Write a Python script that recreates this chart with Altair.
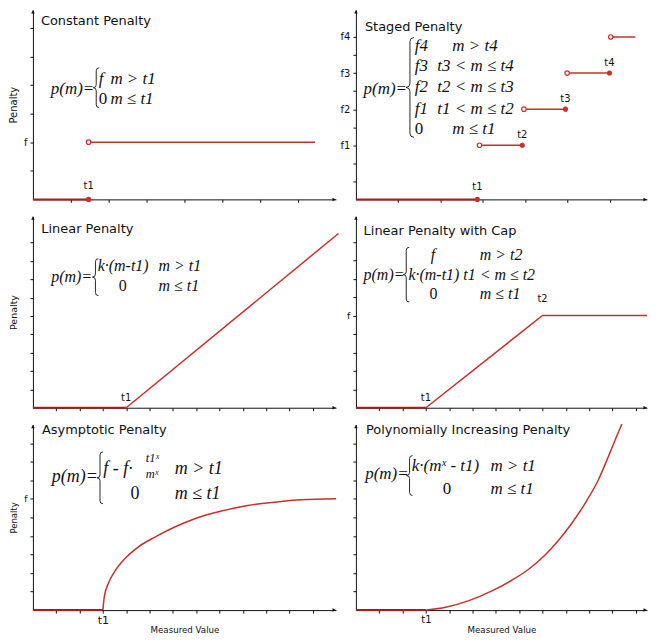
import altair as alt
import pandas as pd

RED = "#c8302c"
DARK_RED = "#a81e1e"
INK = "#111111"
SANS = "DejaVu Sans"
SERIF = "Liberation Serif"

# ---------------- data (tick units of each panel) ----------------
# Constant penalty
const_t1 = 1.47
const_f = 2
const_end = 7.45

# Staged penalty
staged_level = [3, 5, 7, 9]
staged_level_name = ["f1", "f2", "f3", "f4"]
staged_t = [2.87, 3.93, 4.95, 5.99]
staged_open = [2.92, 3.97, 4.99, 6.02]
staged_t_name = ["t1", "t2", "t3", "t4"]
staged_end = 6.6

# Linear penalty
linear_t1 = 4
linear_end_x = 13.1
linear_end_y = 9.5

# Linear penalty with cap
cap_t1 = 3
cap_t2 = 8
cap_f = 5
cap_end = 12.48

# Asymptotic penalty
asym_t1 = 3
asym_f = 6
asym_x = [3.0, 3.06, 3.23, 3.52, 3.94, 4.51, 5.23, 6.08, 6.94, 8.08, 9.21, 10.35, 11.5, 13.0]
asym_y = [0.0, 0.72, 1.43, 2.11, 2.77, 3.40, 3.94, 4.48, 4.93, 5.34, 5.64, 5.82, 5.95, 6.0]

# Polynomially increasing penalty
poly_t1 = 3
poly_x = [3.02, 3.85, 4.84, 5.83, 6.68, 7.39, 8.1, 8.67, 9.24, 9.81, 10.38, 10.81, 11.16, 11.4]
poly_y = [0.0, 0.15, 0.51, 1.04, 1.61, 2.19, 2.96, 3.74, 4.66, 5.73, 6.99, 8.24, 9.32, 10.04]

ticks_const_x = [1, 2, 3, 4, 5, 6, 7]
ticks_const_y = [1, 2, 3, 4, 5, 6]
ticks_staged_x = [1, 2, 3, 4, 5, 6]
ticks_9 = [1, 2, 3, 4, 5, 6, 7, 8, 9]
ticks_12 = [1, 2, 3, 4, 5, 6, 7, 8, 9, 10, 11, 12]

# ---------------- layout ----------------
COL_W = [304, 292]
ROW_H = [190, 192, 186]


def label_expr(mapping):
    expr = "''"
    for v, name in mapping.items():
        expr = f"datum.value == {v} ? '{name}' : " + expr
    return expr


class Panel:
    def __init__(self, col, row, ux, uy, ref_origin, xticks, yticks, xlabels=None, ylabels=None,
                 xtitle=None, ytitle=None, ytitle_size=10, xlabel_size=10, ylabel_size=10):
        self.W, self.H = COL_W[col], ROW_H[row]
        self.ox, self.oy = ref_origin      # reference position of the axes' origin
        self.ux, self.uy = ux, uy
        self.xmax, self.ymax = self.W / ux, self.H / uy
        self.xs = alt.Scale(domain=[0, self.xmax], nice=False, zero=False)
        self.ys = alt.Scale(domain=[0, self.ymax], nice=False, zero=False)
        common = dict(grid=False, domainColor=INK, domainWidth=1, tickColor=INK,
                      tickWidth=1, tickSize=3)
        xa = dict(common, values=xticks)
        if xlabels:
            xa.update(labelExpr=label_expr(xlabels), labelFont=SANS, labelFontSize=xlabel_size,
                      labelColor=INK, labelPadding=1.5, labelAngle=0, labelFlush=False,
                      labelOverlap=False)
        else:
            xa.update(labels=False)
        if xtitle:
            xa.update(title=xtitle, titleFont=SANS, titleFontSize=8.7, titleFontWeight="normal",
                      titleColor=INK, titleY=15)
        else:
            xa.update(title=None)
        ya = dict(common, values=yticks)
        if ylabels:
            ya.update(labelExpr=label_expr(ylabels), labelFont=SANS, labelFontSize=ylabel_size,
                      labelColor=INK, labelPadding=3, labelFlush=False, labelOverlap=False)
        else:
            ya.update(labels=False)
        if ytitle:
            ya.update(title=ytitle, titleFont=SANS, titleFontSize=ytitle_size,
                      titleFontWeight="normal", titleColor=INK, titleX=-14.5)
        else:
            ya.update(title=None)
        self.xa = alt.Axis(**xa)
        self.ya = alt.Axis(**ya)
        self.layers = []

    def enc(self, **extra):
        return dict(x=alt.X("x:Q", scale=self.xs, axis=self.xa),
                    y=alt.Y("y:Q", scale=self.ys, axis=self.ya), **extra)

    def pos(self, px, py):
        return (px - self.ox) / self.ux, (self.oy - py) / self.uy

    def line(self, xs, ys, seg=None, color=RED, width=1.5, interpolate="linear"):
        df = pd.DataFrame({"x": xs, "y": ys, "seg": seg if seg else [0] * len(xs),
                           "i": list(range(len(xs)))})
        self.layers.append(alt.Chart(df).mark_line(color=color, strokeWidth=width,
                                                   interpolate=interpolate)
                           .encode(**self.enc(detail="seg:N", order="i:Q")))

    def dots(self, xs, ys, size=26):
        df = pd.DataFrame({"x": xs, "y": ys})
        self.layers.append(alt.Chart(df).mark_point(shape="circle", filled=True, color=RED,
                                                    size=size, opacity=1)
                           .encode(**self.enc()))

    def rings(self, xs, ys, size=20):
        df = pd.DataFrame({"x": xs, "y": ys})
        self.layers.append(alt.Chart(df).mark_point(shape="circle", filled=True, fill="white",
                                                    stroke=RED, strokeWidth=1.2, size=size,
                                                    opacity=1)
                           .encode(**self.enc()))

    def labels(self, xs, ys, texts, dy, size=10):
        df = pd.DataFrame({"x": xs, "y": ys, "t": texts})
        self.layers.append(alt.Chart(df).mark_text(font=SANS, fontSize=size, color=INK, dy=dy,
                                                   align="center", baseline="middle")
                           .encode(**self.enc(text="t:N")))

    def texts(self, items, font, size, style="normal"):
        rows = [(t,) + self.pos(px, py) for t, px, py in items]
        df = pd.DataFrame(rows, columns=["t", "x", "y"])
        self.layers.append(alt.Chart(df).mark_text(font=font, fontSize=size, fontStyle=style,
                                                   color=INK, align="left", baseline="middle")
                           .encode(**self.enc(text="t:N")))

    def brace(self, cx, cy, h, w=6):
        a = w / h
        path = (f"M{a:.3f},-1Q0,-1 0,{-1 + a:.3f}L0,{-a:.3f}Q0,0 {-a:.3f},0"
                f"Q0,0 0,{a:.3f}L0,{1 - a:.3f}Q0,1 {a:.3f},1")
        x, y = self.pos(cx, cy)
        df = pd.DataFrame({"x": [x], "y": [y]})
        self.layers.append(alt.Chart(df).mark_point(shape=path, filled=False, stroke=INK,
                                                    strokeWidth=0.9, size=h * h, opacity=1)
                           .encode(**self.enc()))

    def arrows(self):
        right = "M0,0L-1,-0.5L-1,0.5Z"
        up = "M0,0L-0.5,1L0.5,1Z"
        for shape, x, y in [(right, self.xmax, 0), (up, 0, self.ymax)]:
            df = pd.DataFrame({"x": [x], "y": [y]})
            self.layers.append(alt.Chart(df).mark_point(shape=shape, filled=True, color=INK,
                                                        size=49, opacity=1, strokeWidth=0)
                               .encode(**self.enc()))

    def chart(self):
        return alt.layer(*self.layers).properties(width=self.W, height=self.H)


# ---------------- Panel 1: Constant ----------------
p1 = Panel(0, 0, 38, 28.7, (34, 198), ticks_const_x, ticks_const_y, ylabels={const_f: "f"},
           ytitle="Penalty", ytitle_size=10)
p1.line([0, const_t1], [0, 0], color=DARK_RED, width=2)
p1.line([const_t1, const_end], [const_f, const_f])
p1.dots([const_t1], [0], size=30)
p1.rings([const_t1], [const_f])
p1.labels([const_t1], [0], ["t1"], dy=-13)
p1.texts([("Constant Penalty", 42, 19)], SANS, 13)
p1.texts([("p(m)=", 52, 87), ("f", 100, 77), ("m > t1", 111.7, 77), ("m ≤ t1", 111.7, 97)],
         SERIF, 17, "italic")
p1.texts([("0", 100, 97)], SERIF, 17)
p1.brace(97.5, 86, 40)
p1.arrows()

# ---------------- Panel 2: Staged ----------------
p2 = Panel(1, 0, 42.46, 18.1, (358.3, 199), ticks_staged_x, ticks_9,
           ylabels=dict(zip(staged_level, staged_level_name)))
p2.line([0, staged_t[0]], [0, 0], color=DARK_RED, width=2)
seg_x, seg_y, seg_id = [], [], []
for i in range(4):
    x1 = staged_t[i + 1] if i < 3 else staged_end
    seg_x += [staged_open[i], x1]
    seg_y += [staged_level[i], staged_level[i]]
    seg_id += [i, i]
p2.line(seg_x, seg_y, seg=seg_id)
p2.dots([staged_t[0]] + staged_t[1:], [0] + staged_level[:3])
p2.rings(staged_open, staged_level)
p2.labels([staged_t[0]], [0], [staged_t_name[0]], dy=-12)
p2.labels(staged_t[1:], staged_level[:3], staged_t_name[1:], dy=-10)
p2.texts([("Staged Penalty", 367.3, 26)], SANS, 13)
p2.texts([("p(m)=", 366, 88.3),
          ("f4", 417.3, 45), ("f3", 417.3, 65), ("f2", 417.3, 86), ("f1", 417.3, 108.3),
          ("m > t4", 455, 45), ("t3 < m ≤ t4", 440, 65), ("t2 < m ≤ t3", 440, 86),
          ("t1 < m ≤ t2", 440, 108.3), ("m ≤ t1", 455, 128.3)], SERIF, 17, "italic")
p2.texts([("0", 417.3, 128.3)], SERIF, 17)
p2.brace(412.5, 86.7, 100, w=8)
p2.arrows()

# ---------------- Panel 3: Linear ----------------
p3 = Panel(0, 1, 23.4, 18.4, (33.3, 409), ticks_12, ticks_9, ytitle="Penalty", ytitle_size=9.5)
p3.line([0, linear_t1], [0, 0], color=DARK_RED, width=2)
p3.line([linear_t1, linear_end_x], [0, linear_end_y])
p3.labels([linear_t1], [0], ["t1"], dy=-10)
p3.texts([("Linear Penalty", 41.7, 230)], SANS, 13)
p3.texts([("p(m)=", 51.7, 278.3), ("k·(m-t1)", 98.3, 266.7), ("m > t1", 159.3, 266.7),
          ("m ≤ t1", 159.3, 287.3)], SERIF, 16, "italic")
p3.texts([("0", 119.5, 287.3)], SERIF, 16)
p3.brace(96, 278, 37)
p3.arrows()

# ---------------- Panel 4: Linear with cap ----------------
p4 = Panel(1, 1, 23.4, 18.5, (359, 411), ticks_12, ticks_9, ylabels={cap_f: "f"},
           ylabel_size=9.5)
p4.line([0, cap_t1], [0, 0], color=DARK_RED, width=2)
p4.line([cap_t1, cap_t2, cap_end], [0, cap_f, cap_f])
p4.labels([cap_t1], [0], ["t1"], dy=-9.5)
p4.labels([cap_t2], [cap_f], ["t2"], dy=-16.8)
p4.texts([("Linear Penalty with Cap", 366.7, 233.3)], SANS, 13)
p4.texts([("p(m)=", 366.7, 278.3), ("f", 434, 258.3), ("k·(m-t1)", 411.7, 277.7),
          ("m > t2", 483.3, 258.3), ("t1 < m ≤ t2", 466.7, 277.7), ("m ≤ t1", 483.3, 296.7)],
         SERIF, 16, "italic")
p4.texts([("0", 432.8, 296.7)], SERIF, 16)
p4.brace(409.5, 277.5, 55)
p4.arrows()

# ---------------- Panel 5: Asymptotic ----------------
p5 = Panel(0, 2, 23.4, 18.6, (32.7, 616.7), ticks_12, ticks_9, xlabels={asym_t1: "t1"},
           xlabel_size=11, ylabels={asym_f: "f"}, ylabel_size=9, ytitle="Penalty",
           ytitle_size=8.5, xtitle="Measured Value")
p5.line([0, asym_t1], [0, 0], color=DARK_RED, width=2)
p5.line(asym_x, asym_y, interpolate="monotone")
p5.texts([("Asymptotic Penalty", 41.7, 435.7)], SANS, 13)
p5.texts([("p(m)=", 51.7, 483.3), ("f - f·", 103.3, 475), ("m > t1", 175, 475),
          ("m ≤ t1", 175, 500)], SERIF, 18, "italic")
p5.texts([("t1ˣ", 146, 464.5), ("mˣ", 146, 480.5)], SERIF, 12.5, "italic")
p5.texts([("0", 130.5, 500)], SERIF, 18)
p5.brace(100, 484, 52)
p5.arrows()

# ---------------- Panel 6: Polynomial ----------------
p6 = Panel(1, 2, 23.4, 18.6, (356.7, 616.7), ticks_12, ticks_9, xlabels={poly_t1: "t1"},
           xlabel_size=10, xtitle="Measured Value")
p6.line([0, poly_t1], [0, 0], color=DARK_RED, width=2)
p6.line(poly_x, poly_y, interpolate="monotone")
p6.texts([("Polynomially Increasing Penalty", 366.7, 435.7)], SANS, 13)
p6.texts([("p(m)=", 366, 480), ("k·(mˣ - t1)", 412.7, 472.3), ("m > t1", 491.7, 472.3),
          ("m ≤ t1", 491.7, 495)], SERIF, 17, "italic")
p6.texts([("0", 443.8, 495)], SERIF, 17)
p6.brace(410.5, 481.7, 40)
p6.arrows()

chart = alt.concat(p1.chart(), p2.chart(), p3.chart(), p4.chart(), p5.chart(), p6.chart(),
                   columns=2, spacing={"row": 17, "column": 20}, bounds="flush")
chart = chart.properties(padding={"left": 0, "top": 0, "right": 0, "bottom": 0})
chart = chart.configure(font=SANS).configure_view(stroke="transparent")

chart.save("out.html", embed_options={"renderer": "svg", "actions": False})
